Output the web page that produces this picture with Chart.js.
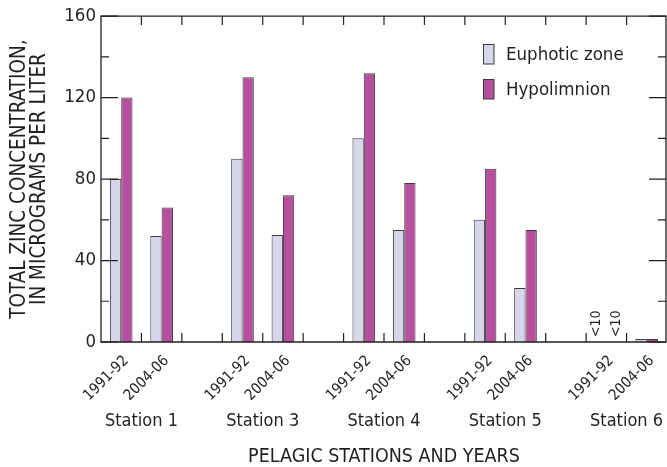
<!DOCTYPE html>
<html>
<head>
<meta charset="utf-8">
<script src="https://cdn.jsdelivr.net/npm/chart.js@4/dist/chart.umd.min.js"></script>
<style>
  html, body { margin: 0; padding: 0; background: #ffffff; }
  #wrap { width: 667px; height: 467px; }
</style>
</head>
<body>
<div id="wrap"><canvas id="chart" width="667" height="467"></canvas></div>
<script>
// Sampling periods per slot; blank slots separate the stations
const yearLabels = ['1991-92', '2004-06', '', '1991-92', '2004-06', '', '1991-92', '2004-06', '', '1991-92', '2004-06', '', '1991-92', '2004-06'];
// Station names sit on the boundary between each station's two periods
const stationLabels = ['', 'Station 1', '', '', 'Station 3', '', '', 'Station 4', '', '', 'Station 5', '', '', 'Station 6', ''];

// Total zinc, micrograms per liter
const euphotic    = [80, 52, null, 90, 52.5, null, 100, 55, null, 60, 26.5, null, null, 1.5];
const hypolimnion = [120, 66, null, 130, 72, null, 132, 78, null, 85, 55, null, null, 1.5];
// Results reported below the reporting level
const euphoticNotes    = ['', '', '', '', '', '', '', '', '', '', '', '', '<10', ''];
const hypolimnionNotes = ['', '', '', '', '', '', '', '', '', '', '', '', '<10', ''];

const yTickValues = [0, 40, 80, 120, 160];

const FONT = "'DejaVu Sans Condensed', 'Roboto', sans-serif";
const INK = '#231f20';
const EUPH_FILL = '#d5d6ea';
const HYPO_FILL = '#b54f9e';
const BAR_EDGE = '#3a3a3a';

// Frame around the plot with inward tick marks on all four sides
const frameTicks = {
  id: 'frameTicks',
  afterDatasetsDraw(chart) {
    const { ctx, chartArea, scales } = chart;
    const { left, right, top, bottom } = chartArea;
    const y = scales.y, x2 = scales.x2;
    const r = right - 1;
    ctx.save();
    ctx.strokeStyle = INK;
    ctx.lineWidth = 1.3;
    ctx.beginPath();
    ctx.rect(left, top, r - left, bottom - top);
    ctx.stroke();

    ctx.lineWidth = 1.2;
    ctx.beginPath();
    const vals = y.ticks.map(t => t.value);
    vals.forEach((v, i) => {
      const py = y.getPixelForValue(v);
      ctx.moveTo(left, py); ctx.lineTo(left + 17, py);
      ctx.moveTo(r, py); ctx.lineTo(r - 17, py);
      if (i < vals.length - 1) {
        const pm = y.getPixelForValue((v + vals[i + 1]) / 2);
        ctx.moveTo(left, pm); ctx.lineTo(left + 8, pm);
        ctx.moveTo(r, pm); ctx.lineTo(r - 8, pm);
      }
    });
    for (let i = 1; i < stationLabels.length - 1; i++) {
      const px = x2.getPixelForTick(i);
      ctx.moveTo(px, bottom); ctx.lineTo(px, bottom - 9);
      ctx.moveTo(px, top); ctx.lineTo(px, top + 9);
    }
    ctx.stroke();

    // notes for results below the reporting level
    ctx.fillStyle = INK;
    ctx.font = '14px ' + FONT;
    ctx.textAlign = 'left';
    ctx.textBaseline = 'middle';
    const drawNotes = (dsIndex, notes, dx) => {
      const meta = chart.getDatasetMeta(dsIndex);
      notes.forEach((txt, i) => {
        if (!txt) return;
        const el = meta.data[i];
        const bx = (el && isFinite(el.x)) ? el.x : scales.x.getPixelForValue(i);
        ctx.save();
        ctx.translate(bx + dx, bottom - 5);
        ctx.rotate(-Math.PI / 2);
        ctx.fillText(txt, 0, 0);
        ctx.restore();
      });
    };
    drawNotes(0, euphoticNotes, -4);
    drawNotes(1, hypolimnionNotes, 4);
    ctx.restore();
  }
};

// Legend drawn inside the upper right of the plot
const insideLegend = {
  id: 'insideLegend',
  afterDraw(chart) {
    const { ctx, chartArea } = chart;
    const x0 = chartArea.right - 184;
    const rows = [44, 79];
    ctx.save();
    chart.data.datasets.forEach((ds, i) => {
      const yTop = rows[i];
      ctx.fillStyle = ds.backgroundColor;
      ctx.fillRect(x0, yTop, 11, 20);
      ctx.strokeStyle = BAR_EDGE;
      ctx.lineWidth = 1;
      ctx.strokeRect(x0 + 0.5, yTop + 0.5, 10.5, 19.5);
      ctx.fillStyle = INK;
      ctx.font = '18.5px ' + FONT;
      ctx.textAlign = 'left';
      ctx.textBaseline = 'middle';
      ctx.fillText(ds.label, x0 + 23, yTop + 11);
    });
    ctx.restore();
  }
};

// keep the plot edges fixed: no extra side padding for overhanging labels
function fixHeight(h) {
  return function (scale) {
    scale.height = h;
    scale.paddingLeft = 0;
    scale.paddingRight = 0;
  };
}

new Chart(document.getElementById('chart'), {
  type: 'bar',
  data: {
    labels: yearLabels,
    datasets: [
      {
        label: 'Euphotic zone',
        data: euphotic,
        backgroundColor: EUPH_FILL,
        borderColor: BAR_EDGE,
        borderWidth: 1,
        categoryPercentage: 0.56,
        barPercentage: 1.0
      },
      {
        label: 'Hypolimnion',
        data: hypolimnion,
        backgroundColor: HYPO_FILL,
        borderColor: BAR_EDGE,
        borderWidth: 1,
        categoryPercentage: 0.56,
        barPercentage: 1.0
      }
    ]
  },
  options: {
    responsive: false,
    animation: false,
    layout: { padding: { top: 15, right: 0, bottom: 0, left: 0 } },
    plugins: {
      legend: { display: false },
      tooltip: { enabled: false }
    },
    scales: {
      x: {
        type: 'category',
        position: 'bottom',
        offset: true,
        grid: { display: false, drawTicks: false },
        border: { display: false },
        ticks: {
          autoSkip: false,
          minRotation: 45,
          maxRotation: 45,
          padding: 10,
          labelOffset: 5,
          color: INK,
          font: { family: FONT, size: 15 }
        },
        afterFit: fixHeight(62)
      },
      x2: {
        type: 'category',
        position: 'bottom',
        labels: stationLabels,
        offset: false,
        grid: { display: false, drawTicks: false },
        border: { display: false },
        ticks: {
          autoSkip: false,
          minRotation: 0,
          maxRotation: 0,
          padding: 7,
          color: INK,
          font: { family: FONT, size: 18 }
        },
        title: {
          display: true,
          text: 'PELAGIC STATIONS AND YEARS',
          color: INK,
          font: { family: FONT, size: 19.5, lineHeight: 1 },
          padding: { top: 0, bottom: 0 }
        },
        afterFit: fixHeight(63)
      },
      y: {
        min: 0,
        max: 160,
        grid: { display: false, drawTicks: false },
        border: { display: false },
        afterBuildTicks(scale) { scale.ticks = yTickValues.map(v => ({ value: v })); },
        ticks: {
          padding: 5,
          color: INK,
          font: { family: FONT, size: 18.5 }
        },
        title: {
          display: true,
          text: ['TOTAL ZINC CONCENTRATION,', 'IN MICROGRAMS PER LITER'],
          color: INK,
          font: { family: FONT, size: 20.5, lineHeight: 0.976 },
          padding: { top: 10, bottom: 0 }
        },
        afterFit(scale) { scale.width = 101; }
      }
    }
  },
  plugins: [frameTicks, insideLegend]
});
</script>
</body>
</html>
